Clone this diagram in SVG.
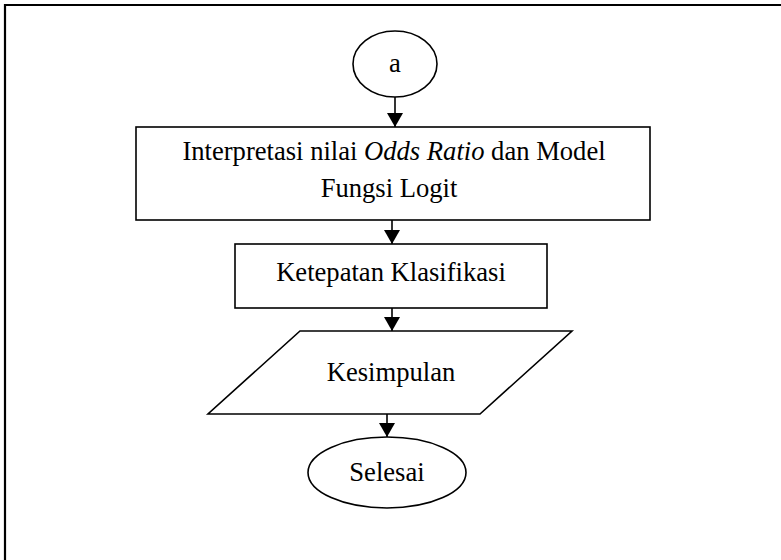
<svg xmlns="http://www.w3.org/2000/svg" width="781" height="560" viewBox="0 0 781 560">
<defs>
<marker id="ah" viewBox="0 0 14 16" refX="14" refY="8" markerWidth="14" markerHeight="16" markerUnits="userSpaceOnUse" orient="auto">
<path d="M0,0 L14,8 L0,16 Z" fill="#000"/>
</marker>
</defs>
<style>
.s{fill:#fff;stroke:#000;stroke-width:1.6}
.t{font-family:"Liberation Serif","Times New Roman",serif;font-size:26.6px;fill:#000;text-anchor:middle}
.c{stroke:#000;stroke-width:1.6;fill:none;marker-end:url(#ah)}
</style>
<rect width="781" height="560" fill="#fff"/>
<g id="frame">
<line x1="4" y1="5" x2="781" y2="5" stroke="#000" stroke-width="2.2"/>
<line x1="5" y1="4" x2="5" y2="560" stroke="#000" stroke-width="2.2"/>
</g>
<g id="connectors">
<line class="c" x1="395" y1="97" x2="395" y2="127"/>
<line class="c" x1="392" y1="220" x2="392" y2="244"/>
<line class="c" x1="392" y1="308" x2="392" y2="331"/>
<line class="c" x1="387" y1="414" x2="387" y2="437"/>
</g>
<g id="node-a">
<ellipse class="s" cx="395" cy="64" rx="42" ry="33"/>
<text class="t" x="395" y="72">a</text>
</g>
<g id="node-interpretasi">
<rect class="s" x="136" y="127" width="514" height="93"/>
<text class="t" x="394" y="160">Interpretasi nilai <tspan font-style="italic">Odds Ratio</tspan> dan Model</text>
<text class="t" x="389" y="197">Fungsi Logit</text>
</g>
<g id="node-ketepatan">
<rect class="s" x="235" y="244" width="312" height="64"/>
<text class="t" x="391" y="281">Ketepatan Klasifikasi</text>
</g>
<g id="node-kesimpulan">
<polygon class="s" points="300,331 572,331 480,414 208,414"/>
<text class="t" x="391" y="381">Kesimpulan</text>
</g>
<g id="node-selesai">
<ellipse class="s" cx="387" cy="472.5" rx="79" ry="35.5"/>
<text class="t" x="387" y="481">Selesai</text>
</g>
</svg>
